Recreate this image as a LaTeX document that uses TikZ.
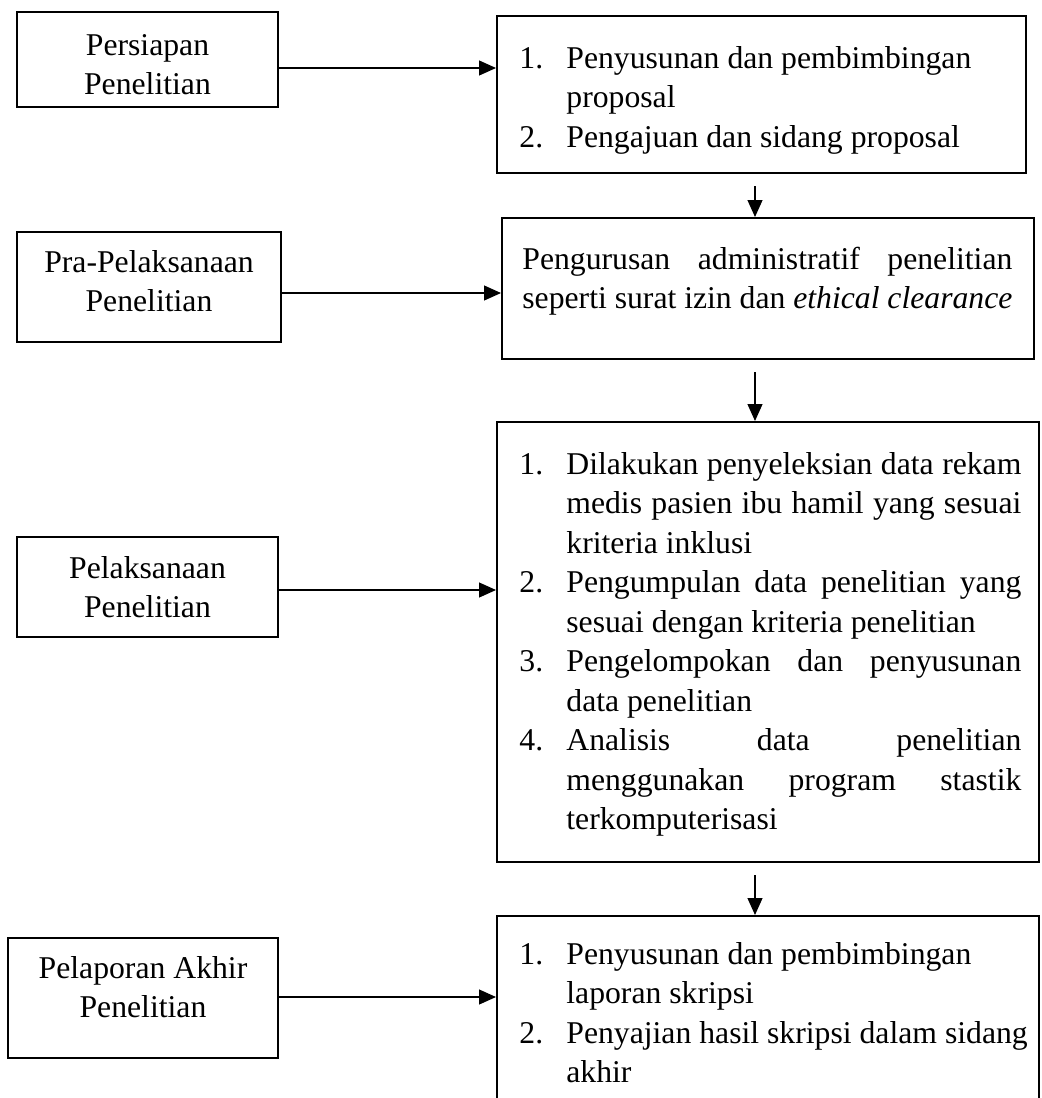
\documentclass[tikz,border=0pt]{standalone}
\usepackage{fontspec}
\setmainfont{Liberation Serif}
\usetikzlibrary{arrows.meta, positioning}

\newcommand\boxfont{\fontsize{15.85}{19.75}\selectfont\hyphenpenalty=10000\exhyphenpenalty=10000\tolerance=10000}
\newcommand\itm[2]{\par\hangindent=23.5pt\hangafter=1\noindent\makebox[23.5pt][l]{\strut#1}#2\par}

\tikzset{
  stagebox/.style={draw, line width=1pt, inner sep=0pt},
  boxtext/.style={inner sep=0pt, font=\boxfont},
  flow/.style={-{Triangle[length=8.5pt,width=7.5pt]}, line width=0.6pt}
}

\begin{document}
\begin{tikzpicture}[x=0.5pt,y=-0.5pt]
\clip (0,0) rectangle (1041,1098);

% Stage boxes (left column)
\node[stagebox, minimum width=130.5pt, minimum height=47.5pt] (prep) at (147.5,59.5) {};
\node[stagebox, minimum width=132pt, minimum height=55pt] (prapel) at (149,287) {};
\node[stagebox, minimum width=130.5pt, minimum height=50pt] (pel) at (147.5,587) {};
\node[stagebox, minimum width=135pt, minimum height=60pt] (lapor) at (143,998) {};

\node[boxtext, anchor=north, align=center] (prep-t) at (147.5,27) {\strut Persiapan\\Penelitian};
\node[boxtext, anchor=north, align=center] (prapel-t) at (149,244.4) {\strut Pra-Pelaksanaan\\Penelitian};
\node[boxtext, anchor=north, align=center] (pel-t) at (147.5,550.4) {\strut Pelaksanaan\\Penelitian};
\node[boxtext, anchor=north, align=center] (lapor-t) at (143,950.4) {\strut Pelaporan Akhir\\Penelitian};

% Activity boxes (right column)
\node[stagebox, minimum width=264.5pt, minimum height=78.5pt] (prepact) at (761.5,94.5) {};
\node[stagebox, minimum width=266pt, minimum height=70.5pt] (prapelact) at (768,288.5) {};
\node[stagebox, minimum width=271pt, minimum height=220pt] (pelact) at (768,642) {};
\node[stagebox, minimum width=271pt, minimum height=102pt] (laporact) at (768,1018) {};

\node[boxtext, anchor=north west, text width=243.5pt, align=flush left] (prepact-t) at (519,28.4) {%
  \itm{1.}{Penyusunan dan pembimbingan proposal}%
  \itm{2.}{Pengajuan dan sidang proposal}};
\node[boxtext, anchor=north west, text width=245pt, align=justify] (prapelact-t) at (522,241.4) {%
  \parfillskip=0pt\strut Pengurusan administratif penelitian seperti surat izin dan \textit{ethical clearance}\par};
\node[boxtext, anchor=north west, text width=251pt, align=justify] (pelact-t) at (519,434.4) {%
  \itm{1.}{Dilakukan penyeleksian data rekam medis pasien ibu hamil yang sesuai kriteria inklusi}%
  \itm{2.}{Pengumpulan data penelitian yang sesuai dengan kriteria penelitian}%
  \itm{3.}{Pengelompokan dan penyusunan data penelitian}%
  \itm{4.}{Analisis data penelitian\linebreak menggunakan program stastik\linebreak terkomputerisasi}};
\node[boxtext, anchor=north west, text width=258.5pt, align=flush left] (laporact-t) at (519,924.4) {%
  \itm{1.}{Penyusunan dan pembimbingan laporan skripsi}%
  \itm{2.}{Penyajian hasil skripsi dalam sidang akhir}};

% Arrows from stages to activities
\draw[flow] (prep.east |- 0,68) -- (prepact.west |- 0,68);
\draw[flow] (prapel.east |- 0,293) -- (prapelact.west |- 0,293);
\draw[flow] (pel.east |- 0,590) -- (pelact.west |- 0,590);
\draw[flow] (lapor.east |- 0,997) -- (laporact.west |- 0,997);

% Arrows between activities
\coordinate (col) at (755,0);
\foreach \a/\b in {prepact/prapelact, prapelact/pelact, pelact/laporact}
  \draw[flow, shorten <=6pt] (\a.south -| col) -- (\b.north -| col);

\end{tikzpicture}
\end{document}
